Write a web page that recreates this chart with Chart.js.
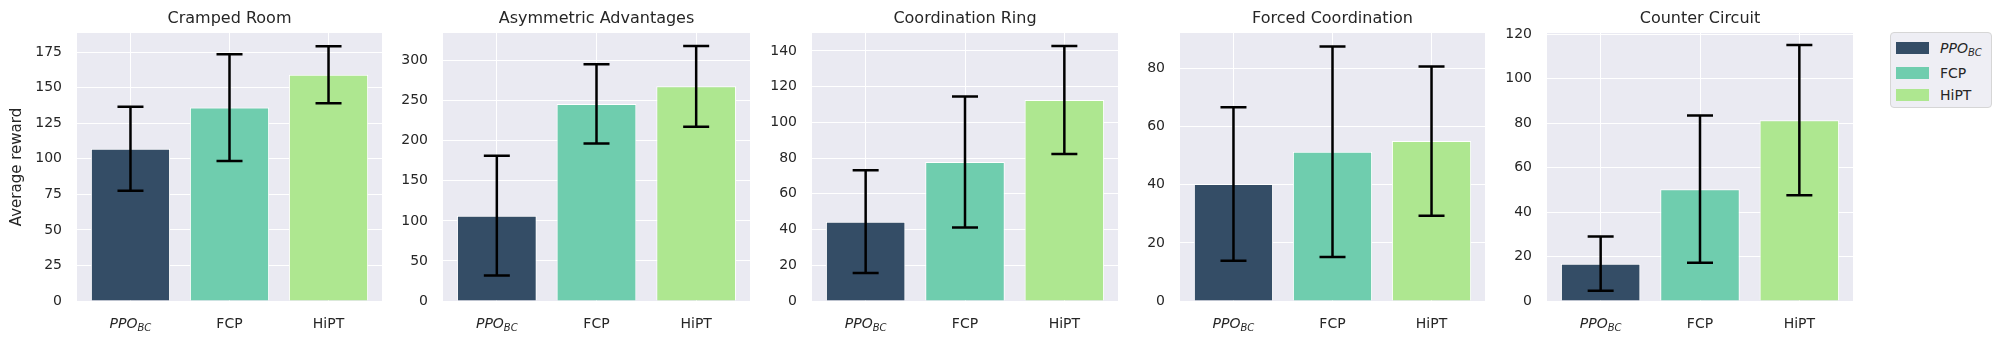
<!DOCTYPE html>
<html>
<head>
<meta charset="utf-8">
<script src="https://cdn.jsdelivr.net/npm/chart.js@4"></script>
<style>
  body { margin: 0; background: #fff; }
  #wrap { position: relative; width: 2002px; height: 344px; overflow: hidden; font-family: "DejaVu Sans", sans-serif; color: #262626; }
  #wrap canvas { position: absolute; top: 0; }
  .legend { position: absolute; left: 1890px; top: 32px; width: 102px; height: 76px; box-sizing: border-box;
            border: 1px solid #d6d6d6; border-radius: 4px; background: #eeeef4; }
  .legend .sw { position: absolute; left: 5px; width: 33px; height: 12px; }
  .legend .lb { position: absolute; left: 49px; font-size: 14px; line-height: 16px; }
  .legend sub { font-size: 10px; vertical-align: -3px; line-height: 0; }
</style>
</head>
<body>
<div id="wrap"></div>
<script>
// one panel per layout
const panelTitles = ['Cramped Room', 'Asymmetric Advantages', 'Coordination Ring', 'Forced Coordination', 'Counter Circuit'];
const methods = ['PPO_BC', 'FCP', 'HiPT'];
const colors = ['#344d66', '#6fcdae', '#aee790'];

// average reward per panel (PPO_BC, FCP, HiPT)
const meanReward = [
  [107, 136, 159],
  [106.5, 246, 268],
  [44.4, 77.8, 112.5],
  [40.3, 51.4, 55.1],
  [16.8, 50.3, 81.3]
];
// error bar half-length
const stdReward = [
  [29.5, 37.5, 20],
  [74.8, 49.5, 50.4],
  [28.75, 36.6, 30.25],
  [26.45, 36.25, 25.7],
  [12.15, 33.1, 33.75]
];
const yMax = [188.4, 334.5, 150, 92.3, 120.5];
const yTicks = [
  [0, 25, 50, 75, 100, 125, 150, 175],
  [0, 50, 100, 150, 200, 250, 300],
  [0, 20, 40, 60, 80, 100, 120, 140],
  [0, 20, 40, 60, 80],
  [0, 20, 40, 60, 80, 100, 120]
];

// layout of plot areas in the page
const plotLeft = [77, 443, 812, 1180, 1547];
const plotWidth = [305, 307, 306, 305, 306];
const yAxisWidth = [77, 50, 50, 50, 50];
const TXT = '#262626';
const FONT = '"DejaVu Sans", sans-serif';

const bgPlugin = {
  id: 'bg',
  beforeDraw(chart) {
    const { ctx, chartArea: a } = chart;
    ctx.save();
    ctx.fillStyle = '#eaeaf2';
    ctx.fillRect(a.left, a.top, a.right - a.left, a.bottom - a.top);
    ctx.restore();
  }
};

const errPlugin = {
  id: 'err',
  afterDatasetsDraw(chart) {
    const p = chart.options.plugins.err.panel;
    const xs = chart.scales.x, ys = chart.scales.y, ctx = chart.ctx;
    ctx.save();
    ctx.strokeStyle = '#000';
    ctx.lineWidth = 2.5;
    meanReward[p].forEach((m, i) => {
      const x = xs.getPixelForValue(i);
      const lo = ys.getPixelForValue(m - stdReward[p][i]);
      const hi = ys.getPixelForValue(m + stdReward[p][i]);
      ctx.beginPath();
      ctx.moveTo(x, lo); ctx.lineTo(x, hi);
      ctx.moveTo(x - 13, lo); ctx.lineTo(x + 13, lo);
      ctx.moveTo(x - 13, hi); ctx.lineTo(x + 13, hi);
      ctx.stroke();
    });
    ctx.restore();
  }
};

// panel title centred on the plot area, and the x labels (PPO with subscript BC)
const textPlugin = {
  id: 'texts',
  afterDraw(chart) {
    const p = chart.options.plugins.err.panel;
    const xs = chart.scales.x, ctx = chart.ctx, a = chart.chartArea;
    ctx.save();
    ctx.fillStyle = TXT;
    ctx.font = '16px ' + FONT;
    ctx.textAlign = 'center';
    ctx.textBaseline = 'alphabetic';
    ctx.fillText(panelTitles[p], (a.left + a.right) / 2, 23);

    const y = a.bottom + 27;
    methods.forEach((m, i) => {
      const x = xs.getPixelForValue(i);
      if (m === 'PPO_BC') {
        ctx.font = 'italic 14px ' + FONT;
        const w1 = ctx.measureText('PPO').width;
        ctx.font = 'italic 10px ' + FONT;
        const w2 = ctx.measureText('BC').width;
        const x0 = x - (w1 + w2) / 2;
        ctx.textAlign = 'left';
        ctx.font = 'italic 14px ' + FONT;
        ctx.fillText('PPO', x0, y);
        ctx.font = 'italic 10px ' + FONT;
        ctx.fillText('BC', x0 + w1, y + 3);
      } else {
        ctx.font = '14px ' + FONT;
        ctx.textAlign = 'center';
        ctx.fillText(m, x, y);
      }
    });
    ctx.restore();
  }
};

const wrap = document.getElementById('wrap');

panelTitles.forEach((title, p) => {
  const cv = document.createElement('canvas');
  cv.width = yAxisWidth[p] + plotWidth[p];
  cv.height = 344;
  cv.style.left = (plotLeft[p] - yAxisWidth[p]) + 'px';
  wrap.appendChild(cv);

  new Chart(cv, {
    type: 'bar',
    data: {
      datasets: [{
        data: meanReward[p].map((v, i) => ({ x: i, y: v })),
        backgroundColor: colors,
        borderColor: '#ffffff',
        borderWidth: 1,
        categoryPercentage: 1,
        barPercentage: 0.8
      }]
    },
    options: {
      responsive: false,
      animation: false,
      layout: { padding: { top: 33, left: 0, right: 0, bottom: 0 } },
      plugins: {
        legend: { display: false },
        tooltip: { enabled: false },
        title: { display: false },
        err: { panel: p }
      },
      scales: {
        x: {
          type: 'linear',
          offset: false,
          min: -0.54,
          max: 2.54,
          afterBuildTicks: s => { s.ticks = [0, 1, 2].map(v => ({ value: v })); },
          afterFit: s => { s.height = 43; },
          grid: { color: '#ffffff', lineWidth: 1, drawTicks: false, offset: false },
          border: { display: false },
          ticks: { display: false }
        },
        y: {
          min: 0,
          max: yMax[p],
          afterBuildTicks: s => { s.ticks = yTicks[p].map(v => ({ value: v })); },
          afterFit: s => { s.width = yAxisWidth[p]; },
          grid: { color: '#ffffff', lineWidth: 1, drawTicks: false },
          border: { display: false },
          ticks: { color: TXT, font: { family: FONT, size: 14 }, padding: 15 },
          title: {
            display: p === 0,
            text: 'Average reward',
            color: TXT,
            font: { family: FONT, size: 15 },
            padding: { top: 8, bottom: 0 }
          }
        }
      }
    },
    plugins: [bgPlugin, errPlugin, textPlugin]
  });
});

// legend
const leg = document.createElement('div');
leg.className = 'legend';
const rowTop = [8.7, 33.7, 55.7];
methods.forEach((m, i) => {
  const sw = document.createElement('div');
  sw.className = 'sw';
  sw.style.top = rowTop[i] + 'px';
  sw.style.background = colors[i];
  leg.appendChild(sw);
  const lb = document.createElement('div');
  lb.className = 'lb';
  lb.style.top = (rowTop[i] - 2) + 'px';
  if (m === 'PPO_BC') lb.innerHTML = '<i>PPO<sub>BC</sub></i>';
  else lb.textContent = m;
  leg.appendChild(lb);
});
wrap.appendChild(leg);
</script>
</body>
</html>
